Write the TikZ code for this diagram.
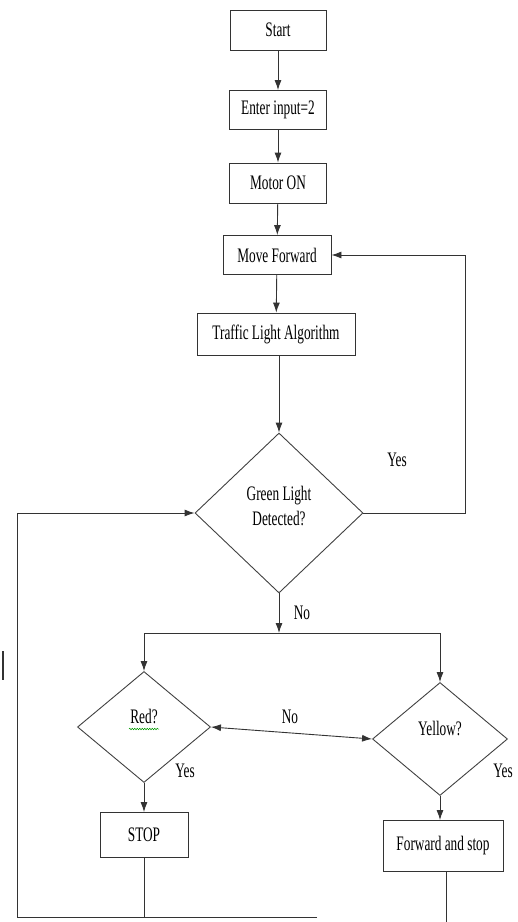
\documentclass[tikz,border=0pt]{standalone}
\usepackage{fontspec}
\setmainfont{Liberation Serif}
\usetikzlibrary{shapes.geometric}
\usetikzlibrary{arrows.meta}
\usetikzlibrary{decorations.pathmorphing}
\newcommand{\tall}[1]{\scalebox{1}[1.55]{#1}}

\begin{document}
\begin{tikzpicture}[x=1pt,y=-1pt,
    line width=0.9pt,
    flowline/.style={draw=black!80},
    arr/.style={flowline,-{Latex[length=10pt,width=7pt]}},
    twoarr/.style={flowline,{Latex[length=10pt,width=7pt]}-{Latex[length=10pt,width=7pt]}},
    procbox/.style={draw=black!80,rectangle,inner sep=0pt,font=\fontsize{13.3}{15}\selectfont},
    askbox/.style={draw=black!75,diamond,inner sep=0pt,font=\fontsize{13.3}{15}\selectfont},
    tag/.style={inner sep=0pt,font=\fontsize{13.3}{15}\selectfont}]
        \useasboundingbox (0,0) rectangle (518,922);

        % Boxes down the middle
        \node[procbox,minimum width=96pt,minimum height=40pt] (start) at (278,30) {\tall{Start}};
        \node[procbox,minimum width=97pt,minimum height=39pt] (input) at (278,110) {\tall{Enter input=2}};
        \node[procbox,minimum width=97pt,minimum height=40pt] (motor) at (278,183) {\tall{Motor ON}};
        \node[procbox,minimum width=108pt,minimum height=39pt] (move) at (277,255) {\tall{Move Forward}};
        \node[procbox,minimum width=158pt,minimum height=42pt] (traffic) at (276,334) {\tall{Traffic Light Algorithm}};

        % Decisions
        \node[askbox,minimum width=168pt,minimum height=160pt] (green) at (279,513) {};
        \node[tag,align=center] (greentxt) at (279,506) {\tall{Green Light}\\[6pt]\tall{Detected?}};
        \node[askbox,minimum width=133pt,minimum height=111pt] (red) at (144,727) {};
        \node[tag] (redtxt) at (144,716) {\tall{Red?}};
        \node[askbox,minimum width=135pt,minimum height=113pt] (yellow) at (440,739) {};
        \node[tag] (yellowtxt) at (440,728) {\tall{Yellow?}};

        % Bottom boxes
        \node[procbox,minimum width=88pt,minimum height=45pt] (stop) at (144,835) {\tall{STOP}};
        \node[procbox,minimum width=120pt,minimum height=51pt] (fwdstop) at (443,846) {\tall{Forward and stop}};

        % Helper points
        \coordinate (yesturn) at (465,255);
        \coordinate (split) at (279,633);
        \coordinate (loopcorner) at (17,917);
        \coordinate (loopend) at (317,917);
        \coordinate (fwdend) at (446,922);

        % Main chain
        \draw[arr] (start) -- (input);
        \draw[arr] (input) -- (motor);
        \draw[arr] (motor) -- (move);
        \draw[arr] (move) -- (traffic);
        \draw[arr] (traffic.south -| green.north) -- (green.north);

        % Yes loop back to Move Forward
        \draw[arr] (green.east) -| (yesturn) -- (move.east);
        \node[tag] (yesgreen) at (397,460) {\tall{Yes}};

        % No branch
        \draw[arr] (green.south) -- (split);
        \node[tag] (nogreen) at (302,613) {\tall{No}};
        \draw[arr] (split) -| (red.north);
        \draw[arr] (split) -| (yellow.north);
        \draw[twoarr] (red.east) -- (yellow.west);
        \node[tag] (nored) at (290,717) {\tall{No}};

        % Yes branches
        \draw[arr] (red.south) -- (stop.north);
        \node[tag] (yesred) at (185,771) {\tall{Yes}};
        \draw[arr] (yellow.south) -- (fwdstop.north -| yellow.south);
        \node[tag] (yesyellow) at (503,771) {\tall{Yes}};

        % Lines at the bottom and loop on the left
        \draw[flowline] (stop.south) -- (stop.south |- loopcorner);
        \draw[flowline] (fwdstop.south -| fwdend) -- (fwdend);
        \draw[arr] (loopend) -- (loopcorner) |- (green.west);

        % Spell-check mark and stray bar
        \draw[green!60!black,line width=0.5pt,decorate,decoration={snake,amplitude=0.8pt,segment length=2.5pt}] (129,729) -- (159,729);
        \draw[black!80,line width=1.5pt] (3,651) -- (3,680);
        
        \end{tikzpicture}
\end{document}
